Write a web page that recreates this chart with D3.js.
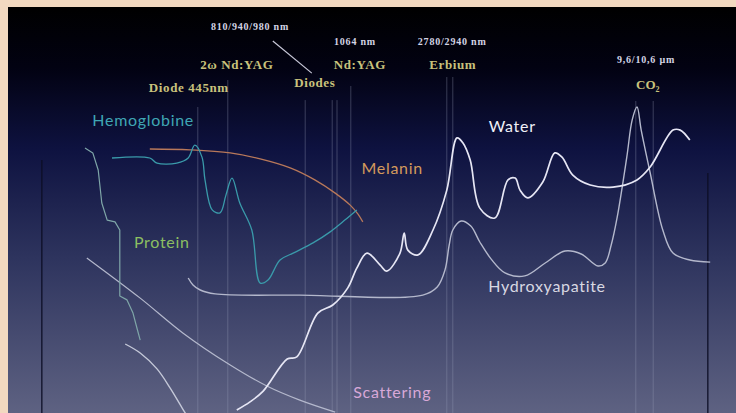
<!DOCTYPE html>
<html>
<head>
<meta charset="utf-8">
<script src="https://cdn.jsdelivr.net/npm/d3@7"></script>
<style>
  html, body { margin: 0; padding: 0; background: #f2d9c0; }
  svg { display: block; }
</style>
</head>
<body>
<div id="chart"></div>
<script>
// curve data, x = relative spectral position, y = relative absorption
const water = [[32.8,0],[35,2.7],[37.2,6.3],[41.2,17],[42.8,17.7],[46.3,32.3],[48.8,35],[51.3,40.7],[52.8,47.3],[54.5,52.3],[56.7,48.3],[57.8,46.3],[60,52.3],[60.7,59],[61.3,53.3],[63,51.7],[65.5,60],[67.8,73.3],[69.5,90.7],[70.5,89],[71.7,83.3],[73.3,67.3],[75.8,64],[78,76.7],[79.2,77.3],[80,73.3],[81.3,70.7],[83.8,76],[85.8,85.7],[87,84.3],[88.8,78.3],[91.7,75],[95.5,74.3],[99.5,76.7],[101.7,81],[105.5,93.3],[106.7,93.3],[108.3,90]];
const hydroxyapatite = [[24.7,44],[25.5,41.7],[26.7,40],[29.2,38.7],[43.3,38.3],[63.8,38.3],[66.2,41],[67.5,46.7],[68.2,55],[68.8,60],[70.2,63],[71.8,61.3],[73.3,56],[75.2,50.3],[77.5,45.7],[80.8,44.7],[84.2,49],[87.5,53],[90.2,52],[93,48],[94.2,49],[95.2,55],[96.2,64.3],[97.8,84.3],[98.7,96.7],[99.5,101],[100.2,93.3],[101.7,79],[103.8,60],[105.5,52.3],[108.3,50],[111.7,49.3]];
const hemoglobine = [[12,84],[18.3,84],[19.5,82.3],[22.8,82.3],[24.7,84],[25.8,88.3],[27,84.3],[27.5,76.7],[28.7,66.7],[30,65.7],[31,71.7],[32,77.3],[33.3,69],[35.3,60],[36.7,42.3],[38,43.3],[40,50],[42.2,52.3],[45.5,55.7],[48.3,59.3],[50.8,63.3],[52.8,66.7]];
const melanin = [[18.3,87],[25,86.7],[31.7,85.7],[36.7,83.7],[41.7,80.7],[45.8,76.7],[49.2,72.3],[51.7,68.3],[53,65.3],[53.8,62.7]];
const protein = [[7.5,87.3],[8.8,85.7],[9.7,80],[10.3,69],[11.2,63.3],[12.5,62.7],[13.3,60],[13.3,38],[14.5,36.7],[15.5,32.3],[16.2,27],[16.7,23.3]];
const scatteringA = [[7.8,50.7],[16.7,37.3],[23.8,25.7],[31.7,15],[37.8,8],[43.3,3.3],[49.2,-0.7]];
const scatteringB = [[14.2,22],[16.7,19],[19.5,13.7],[21.7,7.3],[23.8,0.3],[24.3,-1.3]];

// laser lines: position, top of line
const laserPos = [26.3, 31.3, 44.2, 48.7, 49.5, 51.8, 67.8, 68.8, 99.3, 102.2];
const laserTop = [101, 110, 103.3, 103.3, 103.3, 108, 111, 111, 103, 103];
const framePos = [0.3, 111.3];
const frameTop = [83.3, 79];

// laser names and wavelengths
const laserNames = ["Diode 445nm", "2\u03c9 Nd:YAG", "Diodes", "Nd:YAG", "Erbium"];
const laserNameX = [24.8, 32.8, 45.8, 53.3, 68.8];
const laserNameY = [107, 114.5, 108.5, 114.5, 114.5];
const waveLabels = ["810/940/980 nm", "1064 nm", "2780/2940 nm", "9,6/10,6 \u00b5m"];
const waveX = [35, 52.5, 68.7, 101];
const waveY = [127.5, 122.5, 122.5, 116.5];

// series names
const seriesNames = ["Hemoglobine", "Water", "Melanin", "Protein", "Hydroxyapatite", "Scattering"];
const seriesX = [17.2, 78.7, 58.7, 20.3, 84.5, 58.7];
const seriesY = [96, 94, 80, 55.3, 40.7, 5.5];
const seriesColors = ["#3fa6b4", "#f0f0f8", "#d49a5c", "#8cbf62", "#d8d8e2", "#d8a8d8"];

const w = 736, h = 413;
const x = d3.scaleLinear().domain([0, 100]).range([40, 640]);
const y = d3.scaleLinear().domain([0, 100]).range([410, 110]);

const svg = d3.select("#chart").append("svg")
  .attr("width", w).attr("height", h);

// background gradient
const grad = svg.append("defs").append("linearGradient")
  .attr("id", "bg").attr("x1", 0).attr("y1", 0).attr("x2", 0).attr("y2", 1);
grad.append("stop").attr("offset", "0%").attr("stop-color", "#000000");
grad.append("stop").attr("offset", "15%").attr("stop-color", "#020212");
grad.append("stop").attr("offset", "35%").attr("stop-color", "#0e1240");
grad.append("stop").attr("offset", "62%").attr("stop-color", "#2e345e");
grad.append("stop").attr("offset", "100%").attr("stop-color", "#5e6282");

svg.append("rect").attr("x", 8).attr("y", 7)
  .attr("width", w - 8).attr("height", h - 7)
  .attr("fill", "url(#bg)");

// frame lines
svg.selectAll(".frame").data(framePos).enter().append("line")
  .attr("x1", d => x(d)).attr("x2", d => x(d))
  .attr("y1", (d, i) => y(frameTop[i])).attr("y2", h)
  .attr("stroke", "#0c0e26").attr("stroke-opacity", 0.8).attr("stroke-width", 1.6);

// laser lines
svg.selectAll(".laser").data(laserPos).enter().append("line")
  .attr("x1", d => x(d)).attr("x2", d => x(d))
  .attr("y1", (d, i) => y(laserTop[i])).attr("y2", h)
  .attr("stroke", "#9aa0b8").attr("stroke-opacity", 0.35).attr("stroke-width", 1);

// pointer from wavelength to Diodes
svg.append("line")
  .attr("x1", x(38.8)).attr("y1", y(123))
  .attr("x2", x(45.3)).attr("y2", y(112.3))
  .attr("stroke", "#c8c8d8").attr("stroke-width", 1.2);

const line = d3.line().x(d => x(d[0])).y(d => y(d[1])).curve(d3.curveCatmullRom.alpha(0.5));
const straight = d3.line().x(d => x(d[0])).y(d => y(d[1]));

const curves = [
  {data: scatteringA, color: "#b4b8cc", width: 1.2, gen: line},
  {data: scatteringB, color: "#c4c8d8", width: 1.4, gen: line},
  {data: protein, color: "#7fa6a8", width: 1.2, gen: straight},
  {data: melanin, color: "#b8785a", width: 1.3, gen: line},
  {data: hemoglobine, color: "#3a9aaa", width: 1.3, gen: line},
  {data: hydroxyapatite, color: "#b4b8cc", width: 1.4, gen: line},
  {data: water, color: "#e6e6f4", width: 1.7, gen: line}
];

svg.selectAll(".curve").data(curves).enter().append("path")
  .attr("d", d => d.gen(d.data))
  .attr("fill", "none")
  .attr("stroke", d => d.color)
  .attr("stroke-width", d => d.width)
  .attr("stroke-linejoin", "round");

// laser names
svg.selectAll(".lname").data(laserNames).enter().append("text")
  .attr("x", (d, i) => x(laserNameX[i])).attr("y", (d, i) => y(laserNameY[i]))
  .attr("text-anchor", "middle").attr("dominant-baseline", "middle")
  .style("font-family", "Liberation Serif, serif").style("font-size", "13px")
  .style("font-weight", "bold").style("letter-spacing", "0.6px")
  .attr("fill", "#c9c27c").text(d => d);

const co2 = svg.append("text")
  .attr("x", x(101.3)).attr("y", y(108))
  .attr("text-anchor", "middle").attr("dominant-baseline", "middle")
  .style("font-family", "Liberation Serif, serif").style("font-size", "13px")
  .style("font-weight", "bold").attr("fill", "#c9c27c");
co2.append("tspan").text("CO");
co2.append("tspan").attr("dy", 4).style("font-size", "8px").text("2");

svg.selectAll(".wave").data(waveLabels).enter().append("text")
  .attr("x", (d, i) => x(waveX[i])).attr("y", (d, i) => y(waveY[i]))
  .attr("text-anchor", "middle").attr("dominant-baseline", "middle")
  .style("font-family", "Liberation Serif, serif").style("font-size", "10px")
  .style("font-weight", "bold").style("letter-spacing", "0.8px")
  .attr("fill", "#d4d4e4").text(d => d);

// series names
svg.selectAll(".sname").data(seriesNames).enter().append("text")
  .attr("x", (d, i) => x(seriesX[i])).attr("y", (d, i) => y(seriesY[i]))
  .attr("text-anchor", "middle").attr("dominant-baseline", "middle")
  .style("font-family", "Lato, sans-serif").style("font-size", "16px")
  .style("letter-spacing", "0.7px")
  .attr("fill", (d, i) => seriesColors[i]).text(d => d);
</script>
</body>
</html>
